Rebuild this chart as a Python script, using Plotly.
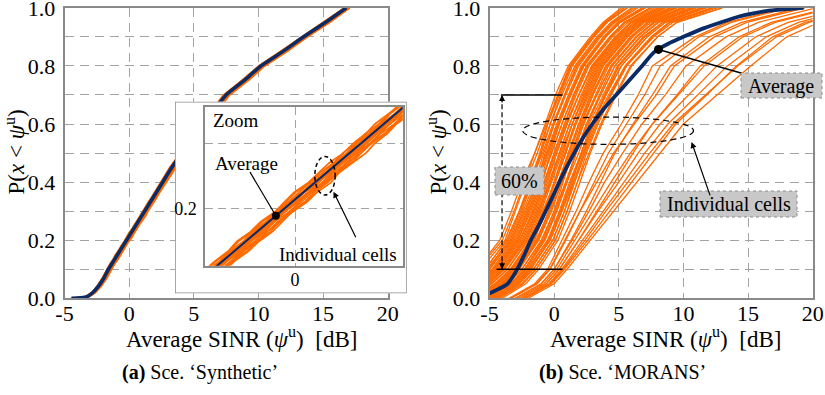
import numpy as np
import plotly.graph_objects as go

W, H = 825, 395

# ---------------- Scenario (a): 'Synthetic' ----------------
# average CDF of the average SINR (dB) over all cells
syn_avg_p = [0, 0.005, 0.02, 0.04, 0.07, 0.1, 0.12, 0.36, 0.4, 0.45, 0.5, 0.55,
             0.6, 0.65, 0.7, 0.75, 0.8, 0.85, 0.9, 0.95, 1.0]
syn_avg_x = [-4.45, -3.3, -2.8, -2.4, -1.95, -1.6, -1.32, 2.04, 2.6, 3.3, 4.1, 4.9,
             5.75, 6.6, 7.5, 8.9, 10.2, 11.9, 13.5, 15.2, 16.8]

# probability levels at which the individual cell CDFs are sampled
syn_cell_p = [0, 0.005, 0.02, 0.04, 0.07, 0.1, 0.12,
              0.135, 0.15, 0.165, 0.18, 0.195, 0.21, 0.225, 0.24, 0.255, 0.27,
              0.285, 0.3, 0.315, 0.33, 0.345, 0.36,
              0.4, 0.45, 0.5, 0.55, 0.6, 0.65, 0.7, 0.75, 0.8, 0.85, 0.9, 0.95, 1.0]

# per-cell SINR offset (dB) from the average curve at each level
syn_cell_offsets = [
    [-0.07, -0.1, -0.08, -0.1, -0.12, -0.13, -0.14, -0.11, -0.16, -0.12, -0.15, -0.1, -0.14, -0.17, -0.12, -0.13,
     -0.16, -0.11, -0.14, -0.12, -0.16, -0.13, -0.1, -0.14, -0.16, -0.13, -0.18, -0.14, -0.16, -0.2, -0.14, -0.18,
     -0.2, -0.16, -0.2, -0.13],
    [-0.03, -0.06, -0.05, -0.06, -0.08, -0.09, -0.06, -0.08, -0.05, -0.1, -0.06, -0.09, -0.06, -0.08, -0.1, -0.06,
     -0.08, -0.05, -0.09, -0.07, -0.06, -0.1, -0.08, -0.09, -0.06, -0.1, -0.08, -0.12, -0.09, -0.08, -0.12, -0.1,
     -0.13, -0.1, -0.14, -0.1],
    [0.0, -0.03, -0.03, -0.04, -0.03, -0.05, -0.03, -0.05, -0.02, -0.06, -0.03, -0.04, -0.07, -0.03, -0.05, -0.01,
     -0.05, -0.03, -0.06, -0.03, -0.05, -0.02, -0.04, -0.05, -0.03, -0.07, -0.04, -0.06, -0.03, -0.07, -0.05, -0.08,
     -0.05, -0.07, -0.08, -0.07],
    [0.05, 0.02, 0.0, 0.03, -0.02, 0.02, 0.0, 0.04, -0.02, 0.03, 0.0, 0.05, -0.01, 0.02, 0.06, 0.0,
     0.03, -0.03, 0.02, 0.05, 0.0, 0.03, -0.02, 0.0, 0.04, -0.02, 0.03, 0.05, 0.0, 0.04, 0.02, -0.03,
     0.05, 0.0, 0.04, 0.05],
    [0.05, 0.03, 0.04, 0.03, 0.05, 0.03, 0.05, 0.02, 0.06, 0.03, 0.07, 0.03, 0.05, 0.01, 0.05, 0.04,
     0.07, 0.03, 0.05, 0.02, 0.06, 0.04, 0.07, 0.03, 0.05, 0.08, 0.04, 0.07, 0.05, 0.08, 0.1, 0.07,
     0.09, 0.07, 0.1, 0.07],
    [0.07, 0.08, 0.05, 0.07, 0.08, 0.07, 0.09, 0.06, 0.1, 0.07, 0.05, 0.09, 0.07, 0.11, 0.07, 0.05,
     0.09, 0.07, 0.1, 0.08, 0.05, 0.09, 0.07, 0.08, 0.1, 0.07, 0.11, 0.08, 0.12, 0.09, 0.13, 0.11,
     0.14, 0.12, 0.14, 0.1],
    [0.08, 0.1, 0.08, 0.09, 0.1, 0.1, 0.08, 0.12, 0.09, 0.13, 0.1, 0.07, 0.11, 0.09, 0.13, 0.1,
     0.08, 0.12, 0.1, 0.08, 0.12, 0.09, 0.12, 0.1, 0.13, 0.1, 0.14, 0.12, 0.16, 0.13, 0.17, 0.14,
     0.18, 0.16, 0.18, 0.13],
    [0.1, 0.12, 0.1, 0.13, 0.12, 0.13, 0.15, 0.12, 0.16, 0.13, 0.1, 0.16, 0.14, 0.11, 0.17, 0.13,
     0.15, 0.12, 0.16, 0.14, 0.11, 0.15, 0.13, 0.14, 0.17, 0.13, 0.18, 0.14, 0.18, 0.16, 0.2, 0.17,
     0.21, 0.18, 0.21, 0.16],
    [0.12, 0.14, 0.13, 0.16, 0.17, 0.16, 0.18, 0.14, 0.2, 0.17, 0.21, 0.16, 0.18, 0.14, 0.2, 0.18,
     0.21, 0.16, 0.19, 0.15, 0.2, 0.17, 0.2, 0.18, 0.2, 0.16, 0.21, 0.18, 0.22, 0.2, 0.23, 0.2,
     0.24, 0.21, 0.23, 0.2],
    [0.13, 0.16, 0.16, 0.18, 0.2, 0.21, 0.18, 0.23, 0.2, 0.24, 0.19, 0.22, 0.26, 0.2, 0.23, 0.2,
     0.25, 0.21, 0.19, 0.23, 0.21, 0.25, 0.22, 0.21, 0.25, 0.21, 0.26, 0.23, 0.27, 0.23, 0.29, 0.25,
     0.29, 0.26, 0.29, 0.23],
    [0.14, 0.18, 0.18, 0.21, 0.23, 0.25, 0.22, 0.26, 0.24, 0.28, 0.24, 0.21, 0.27, 0.25, 0.29, 0.23,
     0.26, 0.3, 0.25, 0.27, 0.23, 0.28, 0.25, 0.26, 0.29, 0.25, 0.3, 0.26, 0.31, 0.27, 0.33, 0.29,
     0.34, 0.3, 0.33, 0.26],
    [-0.05, -0.08, -0.07, -0.09, -0.1, -0.1, -0.12, -0.09, -0.13, -0.1, -0.12, -0.08, -0.11, -0.14, -0.09, -0.12,
     -0.08, -0.12, -0.1, -0.13, -0.09, -0.11, -0.14, -0.12, -0.13, -0.1, -0.14, -0.12, -0.16, -0.13, -0.17, -0.14,
     -0.16, -0.13, -0.16, -0.12],
    [0.04, 0.05, 0.06, 0.05, 0.06, 0.05, 0.03, 0.07, 0.04, 0.08, 0.05, 0.03, 0.06, 0.08, 0.05, 0.07,
     0.03, 0.07, 0.05, 0.08, 0.04, 0.07, 0.05, 0.06, 0.08, 0.05, 0.08, 0.06, 0.09, 0.07, 0.1, 0.08,
     0.12, 0.09, 0.12, 0.08],
    [0.1, 0.13, 0.14, 0.16, 0.18, 0.18, 0.2, 0.17, 0.21, 0.18, 0.16, 0.2, 0.23, 0.18, 0.21, 0.19,
     0.16, 0.21, 0.18, 0.22, 0.2, 0.17, 0.21, 0.2, 0.22, 0.18, 0.23, 0.2, 0.25, 0.21, 0.26, 0.23,
     0.26, 0.23, 0.26, 0.21],
    [0.02, -0.02, -0.01, -0.02, 0.0, -0.03, -0.01, -0.04, 0.0, -0.03, 0.01, -0.02, -0.05, 0.0, -0.03, 0.01,
     -0.02, -0.04, 0.0, -0.03, 0.01, -0.02, -0.04, -0.02, 0.0, -0.04, -0.01, -0.03, 0.0, -0.04, -0.02, -0.05,
     -0.01, -0.04, -0.03, -0.02],
]

# ---------------- Scenario (b): 'MORANS' ----------------
mor_cell_p = [0, 0.05, 0.1, 0.2, 0.3, 0.4, 0.5, 0.6, 0.7, 0.8, 0.9, 0.95, 1.0]
# SINR (dB) of each cell at the levels above
mor_cells = [
    [-9.5, -7.5, -6.0, -4.2, -3.3, -2.5, -1.5, -0.7, 0.1, 1.1, 2.8, 3.8, 5.2],
    [-9.3, -7.3, -5.9, -4.0, -3.1, -2.3, -1.5, -0.6, 0.3, 1.2, 2.9, 3.9, 5.4],
    [-9.0, -7.1, -5.7, -3.8, -3.0, -2.2, -1.3, -0.5, 0.3, 1.3, 3.0, 4.1, 5.6],
    [-8.8, -6.9, -5.4, -3.6, -2.7, -1.9, -1.1, -0.3, 0.6, 1.6, 3.3, 4.4, 6.0],
    [-8.6, -6.6, -5.1, -3.5, -2.6, -1.8, -0.9, -0.1, 0.8, 1.8, 3.5, 4.6, 6.3],
    [-8.3, -6.4, -5.0, -3.3, -2.4, -1.5, -0.8, 0.0, 0.9, 1.9, 3.6, 4.7, 6.5],
    [-8.0, -6.1, -4.8, -3.2, -2.2, -1.4, -0.6, 0.2, 1.1, 2.1, 3.8, 4.9, 6.8],
    [-7.7, -5.9, -4.6, -2.9, -2.0, -1.2, -0.5, 0.3, 1.2, 2.2, 4.0, 5.1, 7.0],
    [-7.6, -5.7, -4.4, -2.8, -1.8, -1.0, -0.2, 0.6, 1.5, 2.5, 4.3, 5.5, 7.5],
    [-7.3, -5.4, -4.1, -2.5, -1.6, -0.8, 0.0, 0.8, 1.7, 2.7, 4.5, 5.7, 7.8],
    [-7.0, -5.2, -3.9, -2.3, -1.4, -0.6, 0.2, 1.0, 1.9, 3.0, 4.8, 6.0, 8.2],
    [-6.7, -4.8, -3.6, -2.1, -1.2, -0.4, 0.4, 1.2, 2.2, 3.2, 5.0, 6.3, 8.6],
    [-6.3, -4.5, -3.3, -1.9, -1.0, -0.2, 0.6, 1.4, 2.4, 3.4, 5.2, 6.5, 8.9],
    [-6.1, -4.2, -3.1, -1.7, -0.8, 0.0, 0.8, 1.6, 2.6, 3.7, 5.5, 6.8, 9.3],
    [-5.6, -3.8, -2.7, -1.3, -0.4, 0.4, 1.2, 2.0, 3.0, 4.1, 6.0, 7.3, 10.0],
    [-5.1, -3.3, -2.3, -0.8, 0.1, 0.9, 1.7, 2.6, 3.6, 4.7, 6.6, 8.0, 10.8],
    [-4.6, -2.8, -1.8, -0.4, 0.5, 1.3, 2.1, 3.0, 4.0, 5.2, 7.2, 8.6, 11.6],
    [-8.7, -6.8, -5.3, -3.7, -2.7, -1.7, -1.1, -0.5, 0.4, 1.3, 3.0, 4.0, 5.4],
    [-8.5, -6.5, -5.2, -3.4, -2.5, -1.7, -1.0, -0.3, 0.5, 1.4, 3.1, 4.1, 5.7],
    [-8.2, -6.3, -5.0, -3.3, -2.3, -1.3, -0.5, 0.3, 1.2, 2.3, 4.0, 5.1, 7.0],
    [-8.0, -6.0, -4.7, -3.1, -2.1, -1.3, -0.7, 0.0, 0.8, 1.7, 3.4, 4.5, 6.1],
    [-7.8, -5.8, -4.5, -2.8, -1.9, -1.0, -0.2, 0.6, 1.5, 2.5, 4.3, 5.4, 7.4],
    [-7.5, -5.6, -4.2, -2.6, -1.7, -0.9, -0.3, 0.4, 1.2, 2.2, 3.9, 5.0, 6.9],
    [-7.4, -5.5, -4.3, -2.7, -1.6, -0.7, 0.1, 0.9, 1.9, 3.0, 4.8, 6.0, 8.2],
    [-7.2, -5.3, -4.0, -2.4, -1.5, -0.7, 0.0, 0.8, 1.6, 2.6, 4.4, 5.5, 7.6],
    [-7.0, -5.1, -3.8, -2.2, -1.2, -0.3, 0.5, 1.4, 2.4, 3.5, 5.3, 6.6, 9.0],
    [-6.9, -5.0, -3.9, -2.3, -1.3, -0.5, 0.2, 1.0, 1.9, 2.9, 4.7, 5.9, 8.0],
    [-6.8, -4.9, -3.6, -2.0, -1.1, -0.3, 0.4, 1.2, 2.1, 3.1, 4.9, 6.2, 8.4],
    [-6.5, -4.6, -3.4, -1.8, -0.9, 0.1, 0.9, 1.7, 2.7, 3.8, 5.6, 6.9, 9.4],
    [-6.4, -4.5, -3.3, -1.7, -0.8, 0.0, 0.7, 1.4, 2.3, 3.3, 5.1, 6.4, 8.6],
    [-6.2, -4.3, -3.2, -1.6, -0.6, 0.3, 1.1, 1.9, 2.9, 4.0, 5.9, 7.2, 9.8],
    [-6.3, -4.4, -3.1, -1.5, -0.7, 0.1, 0.9, 1.6, 2.5, 3.6, 5.4, 6.7, 9.1],
    [-6.0, -4.1, -3.0, -1.4, -0.4, 0.5, 1.3, 2.2, 3.3, 4.4, 6.3, 7.7, 10.6],
    [-5.9, -4.0, -2.9, -1.3, -0.4, 0.4, 1.1, 1.9, 2.8, 3.8, 5.7, 7.0, 9.5],
    [-5.7, -3.9, -2.7, -1.2, -0.2, 0.6, 1.4, 2.2, 3.2, 4.2, 6.1, 7.5, 10.2],
    [-5.5, -3.6, -2.5, -1.0, 0.0, 0.9, 1.7, 2.5, 3.6, 4.7, 6.7, 8.1, 11.0],
    [-5.4, -3.6, -2.5, -0.9, 0.0, 0.7, 1.4, 2.1, 3.0, 4.0, 5.9, 7.3, 9.9],
    [-5.3, -3.4, -2.3, -0.8, 0.2, 1.0, 1.9, 2.7, 3.8, 4.9, 6.9, 8.4, 11.4],
    [-5.2, -3.3, -2.2, -0.7, 0.2, 1.0, 1.7, 2.5, 3.5, 4.5, 6.4, 7.8, 10.6],
    [-5.0, -3.2, -2.1, -0.5, 0.4, 1.2, 2.1, 2.9, 4.0, 5.2, 7.2, 8.6, 11.8],
    [-4.9, -3.1, -2.0, -0.5, 0.5, 1.3, 2.2, 3.1, 4.2, 5.5, 7.5, 8.9, 12.2],
    [-4.8, -3.0, -1.9, -0.3, 0.6, 1.4, 2.1, 2.9, 3.9, 5.0, 7.0, 8.4, 11.4],
    [-4.7, -2.9, -1.8, -0.3, 0.6, 1.5, 2.3, 3.2, 4.4, 5.6, 7.7, 9.2, 12.6],
    [-4.5, -2.7, -1.6, -0.1, 0.8, 1.6, 2.4, 3.3, 4.3, 5.5, 7.5, 8.9, 12.2],
    [-4.4, -2.7, -1.6, -0.1, 0.8, 1.5, 2.3, 3.0, 4.0, 5.0, 7.0, 8.4, 11.3],
    [-4.2, -2.4, -1.4, 0.1, 1.0, 1.8, 2.7, 3.6, 4.7, 5.9, 8.0, 9.5, 13.0],
    [-4.3, -2.5, -1.4, 0.1, 1.0, 1.8, 2.5, 3.4, 4.4, 5.6, 7.6, 9.0, 12.3],
    [-4.0, -2.2, -1.2, 0.3, 1.2, 2.0, 2.8, 3.7, 4.8, 6.0, 8.0, 9.5, 13.0],
    [-8.1, -6.1, -4.6, -3.0, -2.0, -1.1, -0.4, 0.4, 1.3, 2.3, 4.0, 5.1, 7.1],
    [-5.8, -3.9, -2.8, -1.2, -0.3, 0.6, 1.5, 2.3, 3.3, 4.4, 6.4, 7.7, 10.5],
    # cells with markedly better SINR
    [-3.5, -1.5, -0.5, 0.6, 1.7, 2.7, 3.8, 5.2, 6.5, 7.6, 10.9, 13.4, 17.9],
    [-3.3, -1.3, -0.3, 0.9, 2.0, 3.1, 4.2, 5.6, 7.0, 8.2, 11.2, 13.7, 18.2],
    [-3.4, -1.4, -0.35, 0.8, 2.0, 3.3, 4.6, 6.2, 7.9, 9.3, 12.4, 14.9, 19.4],
    [-3.0, -1.0, 0.0, 1.3, 2.5, 3.6, 4.7, 6.1, 7.6, 9.0, 12.0, 14.5, 19.0],
    [-3.0, -1.0, 0.0, 1.4, 2.7, 3.9, 5.3, 6.8, 8.6, 10.2, 13.3, 15.8, 20.3],
    [-2.8, -0.8, 0.2, 1.6, 3.0, 4.4, 5.9, 7.6, 9.6, 11.6, 14.6, 17.1, 21.6],
    [-2.6, -0.6, 0.4, 1.9, 3.3, 4.7, 6.1, 7.6, 9.5, 11.3, 14.3, 16.8, 21.3],
    [-2.6, -0.6, 0.4, 1.9, 3.4, 5.0, 6.5, 8.2, 10.4, 12.6, 15.6, 18.1, 22.6],
    [-2.4, -0.4, 0.6, 2.2, 3.8, 5.4, 7.0, 8.8, 11.1, 13.4, 16.4, 18.9, 23.4],
    [-2.3, -0.3, 0.7, 2.4, 4.0, 5.7, 7.4, 9.2, 11.7, 14.2, 17.2, 19.7, 24.2],
    [-2.2, -0.2, 0.8, 2.6, 4.3, 6.0, 7.7, 9.4, 11.8, 14.1, 16.9, 19.4, 23.9],
    [-2.0, 0.0, 1.0, 2.8, 4.6, 6.4, 8.2, 10.0, 12.6, 15.2, 18.0, 20.5, 25.0],
]

mor_avg_p = [0.005, 0.017, 0.03, 0.05, 0.1, 0.15, 0.2, 0.25, 0.3, 0.35, 0.4, 0.45, 0.5, 0.55,
             0.6, 0.65, 0.7, 0.75, 0.8, 0.85, 0.88, 0.9, 0.93, 0.95, 0.97, 0.98, 0.99, 1.0]
mor_avg_x = [-5.6, -5.0, -4.4, -3.6, -2.85, -2.3, -1.8, -1.2, -0.65, -0.12, 0.4, 0.95, 1.55, 2.2,
             2.95, 3.8, 4.8, 5.8, 6.8, 7.8, 9.0, 10.0, 11.6, 12.9, 14.3, 15.3, 16.6, 19.3]

# probability band marked on panel (b)
band_lo, band_hi = 0.1, 0.7

x_ticks = [-5, 0, 5, 10, 15, 20]
x_tick_text = ["-5", "0", "5", "10", "15", "20"]
y_grid = [round(0.1 * i, 1) for i in range(11)]
y_tick_text = [f"{v:.1f}" if i % 2 == 0 else "" for i, v in enumerate(y_grid)]

# ---------------- styling ----------------
ORANGE = "#ff6a00"
NAVY = "#0b2b66"
GRID = "#a3a3a3"
FRAME = "#8a8a8a"
FONT = "Liberation Serif, serif"
BOXFILL = "#c8c8c8"


def px(v):
    return v / W


def py(v):
    return 1 - v / H


fig = go.Figure()

syn_avg_on_levels = np.interp(syn_cell_p, syn_avg_p, syn_avg_x)
syn_cells_x = [syn_avg_on_levels + np.array(off) for off in syn_cell_offsets]

# panel (a) main axes
for cx in syn_cells_x:
    fig.add_trace(go.Scatter(x=cx, y=syn_cell_p, mode="lines",
                             line=dict(color=ORANGE, width=1.8), xaxis="x", yaxis="y"))
fig.add_trace(go.Scatter(x=syn_avg_x, y=syn_avg_p, mode="lines",
                         line=dict(color=NAVY, width=3.6, shape="spline", smoothing=0.6),
                         xaxis="x", yaxis="y"))

# white card behind the zoomed inset
fig.add_trace(go.Scatter(x=[0, 1, 1, 0, 0], y=[0, 0, 1, 1, 0], mode="lines", fill="toself",
                         fillcolor="white", line=dict(color=FRAME, width=1.5),
                         cliponaxis=False, xaxis="x2", yaxis="y2"))

# inset
for cx in syn_cells_x:
    fig.add_trace(go.Scatter(x=cx, y=syn_cell_p, mode="lines",
                             line=dict(color=ORANGE, width=1.7), xaxis="x3", yaxis="y3"))
fig.add_trace(go.Scatter(x=syn_avg_x, y=syn_avg_p, mode="lines",
                         line=dict(color=NAVY, width=2), xaxis="x3", yaxis="y3"))
syn_dot_x = -0.35
syn_dot_y = float(np.interp(syn_dot_x, syn_avg_x, syn_avg_p))
fig.add_trace(go.Scatter(x=[syn_dot_x], y=[syn_dot_y], mode="markers",
                         marker=dict(color="black", size=8), xaxis="x3", yaxis="y3"))

# panel (b)
for cx in mor_cells:
    fig.add_trace(go.Scatter(x=cx, y=mor_cell_p, mode="lines",
                             line=dict(color=ORANGE, width=1.3), xaxis="x4", yaxis="y4"))
fig.add_trace(go.Scatter(x=mor_avg_x, y=mor_avg_p, mode="lines",
                         line=dict(color=NAVY, width=3.8, shape="spline", smoothing=0.8),
                         xaxis="x4", yaxis="y4"))
mor_dot_x = 8.07
mor_dot_y = float(np.interp(mor_dot_x, mor_avg_x, mor_avg_p))
fig.add_trace(go.Scatter(x=[mor_dot_x], y=[mor_dot_y], mode="markers",
                         marker=dict(color="black", size=9), xaxis="x4", yaxis="y4"))

main_x = dict(range=[-5, 20], tickvals=x_ticks, ticktext=x_tick_text, showgrid=True,
              gridcolor=GRID, griddash="9px,6px", gridwidth=1, zeroline=False,
              showline=True, mirror=True, linecolor=FRAME, linewidth=1.5, ticks="",
              tickfont=dict(size=22, family=FONT, color="black"), ticklabelstandoff=-5,
              ticklabeloverflow="allow", automargin=False)
main_y = dict(range=[0, 1], tickvals=y_grid, ticktext=y_tick_text, showgrid=True,
              gridcolor=GRID, griddash="9px,6px", gridwidth=1, zeroline=False,
              showline=True, mirror=True, linecolor=FRAME, linewidth=1.5, ticks="",
              tickfont=dict(size=22, family=FONT, color="black"), ticklabelstandoff=3,
              ticklabeloverflow="allow", automargin=False)

ydom = [py(298.3), py(7.8)]
fig.update_layout(
    template="none",
    width=W, height=H, margin=dict(l=0, r=0, t=0, b=0, pad=0, autoexpand=False),
    paper_bgcolor="white", plot_bgcolor="white", showlegend=False,
    font=dict(family=FONT, color="black", size=20),
    xaxis=dict(domain=[px(64.5), px(387.7)], anchor="y", **main_x),
    yaxis=dict(domain=ydom, anchor="x", **main_y),
    xaxis2=dict(domain=[px(175), px(406.7)], anchor="y2", range=[0, 1], visible=False,
                automargin=False),
    yaxis2=dict(domain=[py(293.3), py(101.7)], anchor="x2", range=[0, 1], visible=False,
                automargin=False),
    xaxis3=dict(domain=[px(205), px(402.7)], anchor="y3", range=[-1.64, 1.96],
                tickvals=[-5, 0, 5], ticktext=["-5", "0", "5"], showgrid=True,
                gridcolor=GRID, griddash="8px,5px", zeroline=False, showline=True, mirror=True,
                linecolor=FRAME, linewidth=1.5, ticks="", automargin=False,
                tickfont=dict(size=18, family=FONT, color="black"), ticklabelstandoff=-3),
    yaxis3=dict(domain=[py(265.7), py(106.7)], anchor="x3", range=[0.113, 0.356],
                tickvals=y_grid, ticktext=y_tick_text, showgrid=True,
                gridcolor=GRID, griddash="8px,5px", zeroline=False, showline=True, mirror=True,
                linecolor=FRAME, linewidth=1.5, ticks="", automargin=False,
                tickfont=dict(size=18, family=FONT, color="black"), ticklabelstandoff=3),
    xaxis4=dict(domain=[px(489.5), px(812.7)], anchor="y4", **main_x),
    yaxis4=dict(domain=ydom, anchor="x4", **main_y),
)

xtitle = "Average SINR (<i>ψ</i><sup>u</sup>)\u00a0\u00a0[dB]"
ytitle = "P(<i>x</i>\u00a0&lt;\u00a0<i>ψ</i><sup>u</sup>)"

ann = []


def txt(x, y, text, size=20, xanchor="center", angle=0):
    ann.append(dict(x=px(x), y=py(y), xref="paper", yref="paper", text=text, showarrow=False,
                    xanchor=xanchor, yanchor="middle", textangle=angle,
                    font=dict(size=size, family=FONT, color="black")))


txt(241.7, 337, xtitle, 23)
txt(665, 337, xtitle, 23)
txt(15, 152.5, ytitle, 23, angle=-90)
txt(437, 152.5, ytitle, 23, angle=-90)
txt(200, 372, "<b>(a)</b> Sce. ‘Synthetic’", 20)
txt(622.5, 372, "<b>(b)</b> Sce. ‘MORANS’", 20)

# inset labels
txt(211, 120, "Zoom", 19, xanchor="left")
txt(213, 163, "Average", 19, xanchor="left")
txt(337.5, 254, "Individual cells", 19)
ann.append(dict(x=0.70, y=0.226, xref="x3", yref="y3", text="", showarrow=True,
                arrowhead=2, arrowsize=1, arrowwidth=1.2, arrowcolor="black", ax=23, ay=47))

# panel (b) labels
txt(780.5, 86, "Average", 20)
txt(728.5, 204, "Individual cells", 20)
txt(519.5, 181, f"{(band_hi - band_lo) * 100:.0f}%", 20)
ann.append(dict(x=10.63, y=0.538, xref="x4", yref="y4", text="", showarrow=True,
                arrowhead=2, arrowsize=1, arrowwidth=1.2, arrowcolor="black", ax=12.1, ay=0.349,
                axref="x4", ayref="y4"))
ann.append(dict(x=-4.03, y=band_hi, xref="x4", yref="y4", text="", showarrow=True,
                arrowhead=2, arrowsize=1, arrowwidth=1.2, arrowcolor="black", ax=0, ay=9))
ann.append(dict(x=-4.03, y=band_lo, xref="x4", yref="y4", text="", showarrow=True,
                arrowhead=2, arrowsize=1, arrowwidth=1.2, arrowcolor="black", ax=0, ay=-9))

shapes = [
    # leader lines from the labels to the average curves
    dict(type="line", xref="x3", yref="y3", x0=syn_dot_x, y0=syn_dot_y, x1=-0.82, y1=0.256,
         line=dict(color="black", width=1.2), layer="above"),
    dict(type="line", xref="x4", yref="y4", x0=mor_dot_x, y0=mor_dot_y, x1=14.52, y1=0.775,
         line=dict(color="black", width=1.5), layer="above"),
    # inset ellipse around the cell bundle
    dict(type="circle", xref="x3", yref="y3", x0=0.36, x1=0.73, y0=0.221, y1=0.28,
         line=dict(color="black", width=1.5, dash="4px,3px"), layer="above"),
    # panel (b) band markers
    dict(type="line", xref="x4", yref="y4", x0=-4.12, x1=0.65, y0=band_hi, y1=band_hi,
         line=dict(color="black", width=1.5), layer="above"),
    dict(type="line", xref="x4", yref="y4", x0=-4.45, x1=0.65, y0=band_lo, y1=band_lo,
         line=dict(color="black", width=1.5), layer="above"),
    dict(type="line", xref="x4", yref="y4", x0=-4.03, x1=-4.03, y0=band_lo, y1=band_hi,
         line=dict(color="black", width=1.2, dash="5px,3px"), layer="above"),
    dict(type="circle", xref="x4", yref="y4", x0=-2.44, x1=10.78, y0=0.530, y1=0.624,
         line=dict(color="black", width=1.2, dash="6px,4px"), layer="above"),
    # grey label boxes
    dict(type="rect", xref="paper", yref="paper", x0=px(741), x1=px(822), y0=py(98), y1=py(73),
         fillcolor=BOXFILL, line=dict(color="#8c8c8c", width=1, dash="dot"), layer="above"),
    dict(type="rect", xref="paper", yref="paper", x0=px(660), x1=px(797), y0=py(217), y1=py(191),
         fillcolor=BOXFILL, line=dict(color="#8c8c8c", width=1, dash="dot"), layer="above"),
    dict(type="rect", xref="paper", yref="paper", x0=px(495), x1=px(544), y0=py(195), y1=py(167),
         fillcolor=BOXFILL, line=dict(color="#8c8c8c", width=1, dash="dot"), layer="above"),
]

fig.update_layout(annotations=ann, shapes=shapes)
fig.write_html("out.html")
